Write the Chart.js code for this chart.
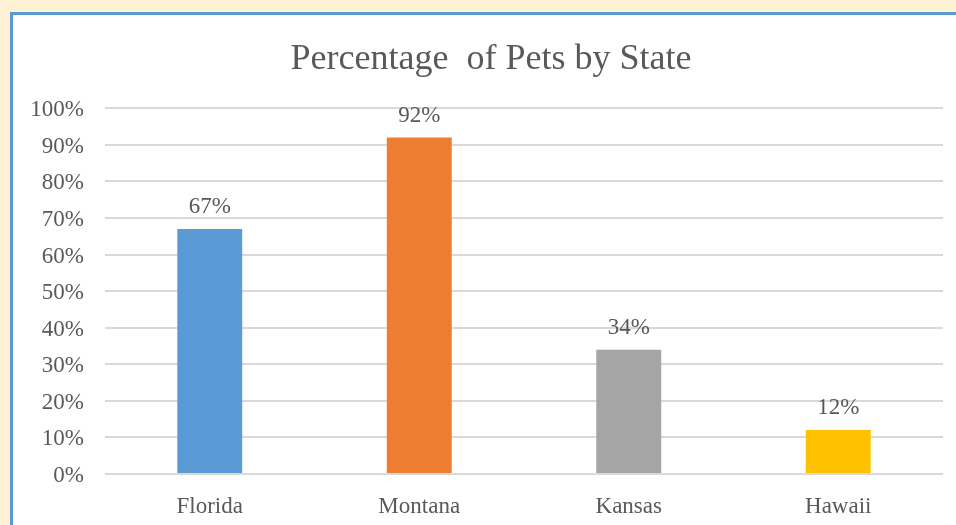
<!DOCTYPE html>
<html>
<head>
<meta charset="utf-8">
<script src="https://cdn.jsdelivr.net/npm/chart.js@4.4.1/dist/chart.umd.min.js"></script>
<style>
  html, body { margin: 0; padding: 0; }
  body { width: 956px; height: 525px; background: #FFF2D4; position: relative; overflow: hidden; }
  #frame {
    position: absolute; left: 10px; top: 12px;
    width: 943px; height: 510px;
    background: #FFFFFF;
    border-left: 3px solid #5B9BD5;
    border-top: 3px solid #5B9BD5;
  }
  #chart { display: block; }
</style>
</head>
<body>
<div id="frame"><canvas id="chart" width="943" height="510"></canvas></div>
<script>
const states = ['Florida', 'Montana', 'Kansas', 'Hawaii'];
const petShare = [67, 92, 34, 12];
const barColors = ['#5B9BD5', '#ED7D31', '#A5A5A5', '#FFC000'];
const chartTitle = 'Percentage  of Pets by State';

const textColor = '#595959';
const serif = "'Liberation Serif', 'Times New Roman', serif";

// Writes each bar's value just above its top edge
const valueLabels = {
  id: 'valueLabels',
  afterDatasetsDraw(chart) {
    const ctx = chart.ctx;
    const meta = chart.getDatasetMeta(0);
    ctx.save();
    ctx.font = `23px ${serif}`;
    ctx.fillStyle = textColor;
    ctx.textAlign = 'center';
    ctx.textBaseline = 'middle';
    meta.data.forEach((bar, i) => {
      ctx.fillText(chart.data.datasets[0].data[i] + '%', bar.x, bar.y - 22);
    });
    ctx.restore();
  }
};

// Lets the value-axis labels use the space of the left layout padding
// (tick labels are clipped to the scale box otherwise)
const widenValueAxis = {
  id: 'widenValueAxis',
  afterLayout(chart) {
    chart.scales.y.left = 0;
  }
};

new Chart(document.getElementById('chart'), {
  type: 'bar',
  data: {
    labels: states,
    datasets: [{
      data: petShare,
      backgroundColor: barColors,
      borderWidth: 0,
      categoryPercentage: 1,
      barPercentage: 0.31
    }]
  },
  options: {
    responsive: false,
    animation: false,
    layout: { padding: { left: 26, right: 13, top: 0, bottom: 0 } },
    plugins: {
      legend: { display: false },
      tooltip: { enabled: false },
      title: {
        display: true,
        text: chartTitle,
        color: textColor,
        font: { family: serif, size: 36, weight: 'normal' },
        padding: { top: 23, bottom: 27 }
      }
    },
    scales: {
      x: {
        grid: { display: false },
        border: { display: false },
        ticks: {
          color: textColor,
          font: { family: serif, size: 23 },
          padding: 11,
          maxRotation: 0
        },
        afterFit(scale) { scale.height = 51; }
      },
      y: {
        min: 0,
        max: 100,
        grid: { color: '#D9D9D9', lineWidth: 2, drawTicks: false },
        border: { display: false },
        ticks: {
          stepSize: 10,
          color: textColor,
          font: { family: serif, size: 23 },
          padding: 21,
          labelOffset: 2,
          callback: v => v + '%'
        },
        afterFit(scale) { scale.width = 66; }
      }
    }
  },
  plugins: [valueLabels, widenValueAxis]
});
</script>
</body>
</html>
